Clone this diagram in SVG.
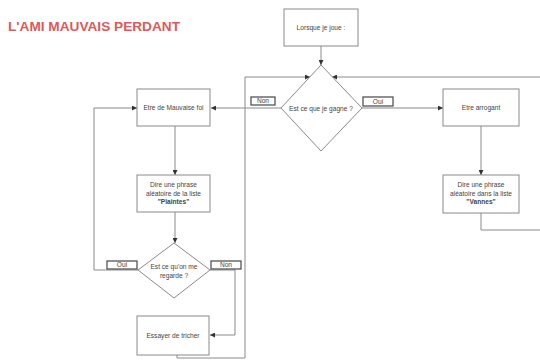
<svg xmlns="http://www.w3.org/2000/svg" width="540" height="360" viewBox="0 0 540 360">
<style>
.box{fill:#fff;stroke:#8a8a8a;stroke-width:1}
.lbl{fill:#fff;stroke:#555;stroke-width:1.3}
.ln{fill:none;stroke:#8a8a8a;stroke-width:1}
.t{font-family:"Liberation Sans",Arial,sans-serif;font-size:6.6px;fill:#444;text-anchor:middle}
.tb{font-weight:bold}
.title{font-family:"Liberation Sans",Arial,sans-serif;font-size:12.5px;fill:#dc5a57;font-weight:bold}
</style>
<defs>
<marker id="ar" viewBox="0 0 6 6" refX="6" refY="3" markerWidth="5" markerHeight="5" orient="auto" markerUnits="userSpaceOnUse">
<path d="M0,0 L6,3 L0,6 z" fill="#333"/>
</marker>
</defs>
<rect width="540" height="360" fill="#fff"/>
<text class="title" x="8" y="31" textLength="172" lengthAdjust="spacingAndGlyphs">L'AMI MAUVAIS PERDANT</text>

<g id="connectors">
<path class="ln" d="M321,46 V65" marker-end="url(#ar)"/>
<path class="ln" d="M245,358 V77 H310" marker-end="url(#ar)"/>
<path class="ln" d="M540,77 H332" marker-end="url(#ar)"/>
<path class="ln" d="M281,108 H211" marker-end="url(#ar)"/>
<path class="ln" d="M362,108 H443" marker-end="url(#ar)"/>
<path class="ln" d="M481,126 V175" marker-end="url(#ar)"/>
<path class="ln" d="M481,213 V230 H540"/>
<path class="ln" d="M175,126 V175" marker-end="url(#ar)"/>
<path class="ln" d="M175,212 V243" marker-end="url(#ar)"/>
<path class="ln" d="M138,270 H94 V108 H137" marker-end="url(#ar)"/>
<path class="ln" d="M210,270 H235 V335 H210" marker-end="url(#ar)"/>
<path class="ln" d="M177,355 V358 H245"/>
</g>

<g id="start">
<rect class="box" x="284" y="9" width="74" height="37"/>
<text class="t" x="321" y="29.5">Lorsque je joue :</text>
</g>

<g id="gagne">
<path class="box" d="M321,65 L362,108 L321,151 L281,108 Z"/>
<text class="t" x="321" y="110.5">Est ce que je gagne ?</text>
</g>

<g id="non1">
<rect class="lbl" x="251" y="97" width="24" height="8"/>
<text class="t" x="263" y="103.3">Non</text>
</g>
<g id="oui1">
<rect class="lbl" x="363" y="97" width="30" height="9"/>
<text class="t" x="378" y="103.8">Oui</text>
</g>

<g id="mauvaisefoi">
<rect class="box" x="137" y="89" width="73" height="37"/>
<text class="t" x="173.5" y="110">Etre de Mauvaise foi</text>
</g>

<g id="plaintes">
<rect class="box" x="137" y="175" width="73" height="37"/>
<text class="t" x="173.5" y="187">Dire une phrase</text>
<text class="t" x="173.5" y="195.5">aléatoire de la liste</text>
<text class="t tb" x="173.5" y="204">"Plaintes"</text>
</g>

<g id="regarde">
<path class="box" d="M174,243 L210,270 L174,298 L138,270 Z"/>
<text class="t" x="174" y="269">Est ce qu'on me</text>
<text class="t" x="174" y="277.5">regarde ?</text>
</g>

<g id="oui2">
<rect class="lbl" x="107" y="261" width="30" height="8"/>
<text class="t" x="122" y="267.3">Oui</text>
</g>
<g id="non2">
<rect class="lbl" x="211" y="261" width="30" height="8"/>
<text class="t" x="226" y="267.3">Non</text>
</g>

<g id="tricher">
<rect class="box" x="137" y="316" width="72" height="39"/>
<text class="t" x="173" y="337.5">Essayer de tricher</text>
</g>

<g id="arrogant">
<rect class="box" x="443" y="89" width="76" height="37"/>
<text class="t" x="481" y="110">Etre arrogant</text>
</g>

<g id="vannes">
<rect class="box" x="443" y="175" width="76" height="38"/>
<text class="t" x="481" y="187">Dire une phrase</text>
<text class="t" x="481" y="195.5">aléatoire dans la liste</text>
<text class="t tb" x="481" y="204">"Vannes"</text>
</g>
</svg>
